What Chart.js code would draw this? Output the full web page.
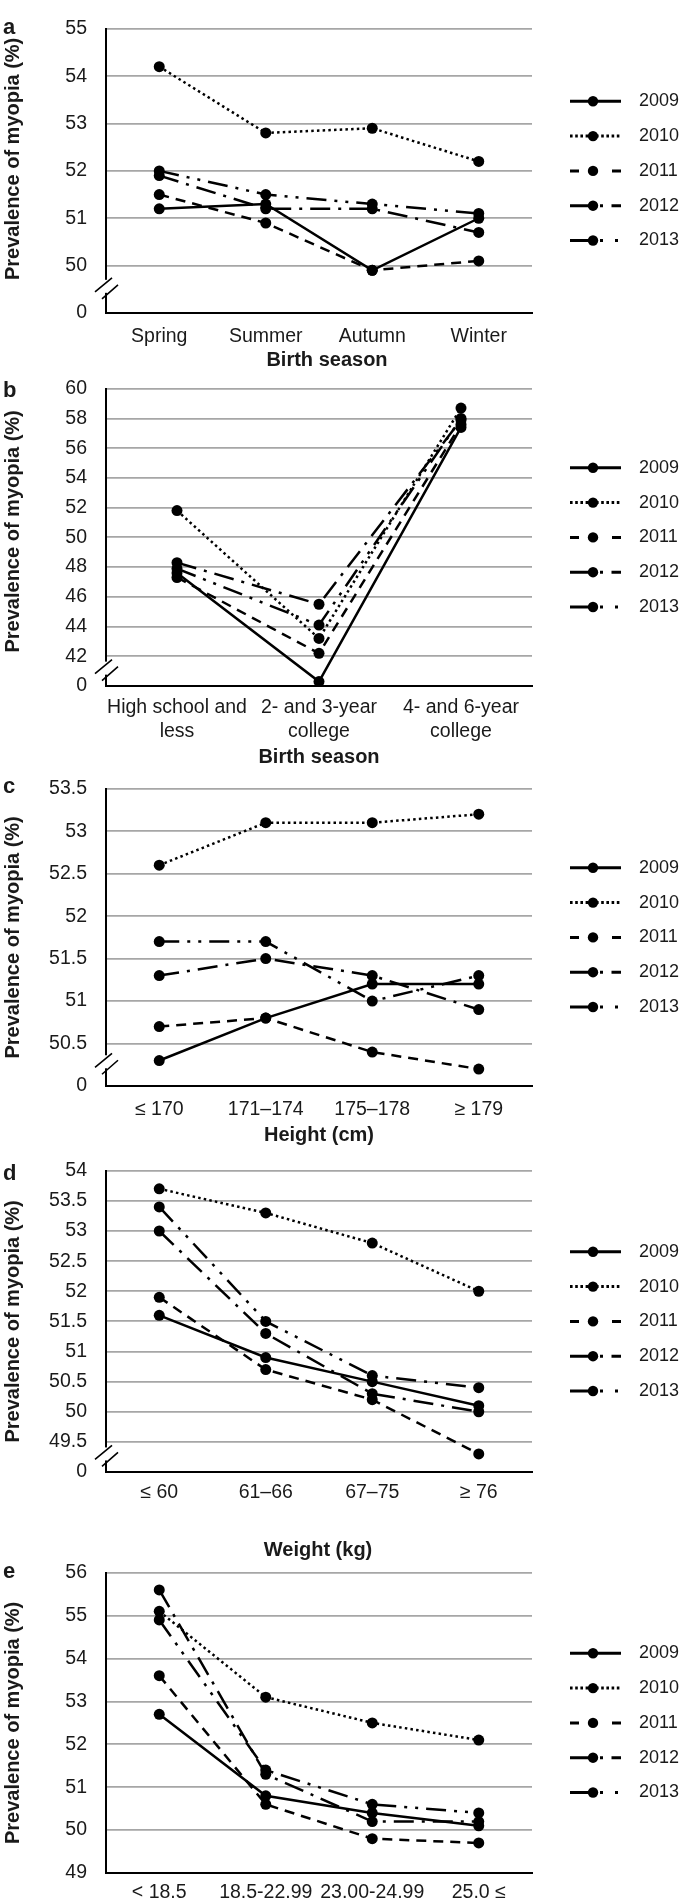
<!DOCTYPE html>
<html>
<head>
<meta charset="utf-8">
<script src="https://cdn.jsdelivr.net/npm/chart.js@4.4.1/dist/chart.umd.min.js"></script>
<style>
  body { margin:0; background:#fff; }
  #wrap { position:relative; width:685px; height:1902px; overflow:hidden; }
  #wrap canvas { position:absolute; left:0; }
</style>
</head>
<body>
<div id="wrap"></div>
<script>
// --- data ---
const years = ['2009', '2010', '2011', '2012', '2013'];

const seasonLabels = ['Spring', 'Summer', 'Autumn', 'Winter'];
const seasonSeries = [
  [51.2, 51.3, 49.9, 51.0],
  [54.2, 52.8, 52.9, 52.2],
  [51.5, 50.9, 49.9, 50.1],
  [51.9, 51.2, 51.2, 50.7],
  [52.0, 51.5, 51.3, 51.1]
];

const eduLabels = [['High school and', 'less'], ['2- and 3-year', 'college'], ['4- and 6-year', 'college']];
const eduSeries = [
  [47.6, 40.3, 57.4],
  [51.8, 43.2, 58.7],
  [47.3, 42.2, 57.6],
  [48.3, 45.5, 57.9],
  [47.9, 44.1, 58.0]
];

const heightLabels = ['≤ 170', '171–174', '175–178', '≥ 179'];
const heightSeries = [
  [50.3, 50.8, 51.2, 51.2],
  [52.6, 53.1, 53.1, 53.2],
  [50.7, 50.8, 50.4, 50.2],
  [51.3, 51.5, 51.3, 50.9],
  [51.7, 51.7, 51.0, 51.3]
];

const weightLabels = ['≤ 60', '61–66', '67–75', '≥ 76'];
const weightSeries = [
  [51.6, 50.9, 50.5, 50.1],
  [53.7, 53.3, 52.8, 52.0],
  [51.9, 50.7, 50.2, 49.3],
  [53.0, 51.3, 50.3, 50.0],
  [53.4, 51.5, 50.6, 50.4]
];

const bmiLabels = ['< 18.5', '18.5-22.99', '23.00-24.99', '25.0 ≤'];
const bmiSeries = [
  [52.7, 50.8, 50.4, 50.1],
  [55.1, 53.1, 52.5, 52.1],
  [53.6, 50.6, 49.8, 49.7],
  [55.6, 51.3, 50.2, 50.2],
  [54.9, 51.4, 50.6, 50.4]
];

const breakLabel = '0';

// --- styles ---
const FONT = "'Liberation Sans', Arial, sans-serif";
const lineDash = [[], [2.5, 3.2], [10, 7], [20, 8, 3, 8], [20, 8, 3, 8, 3, 8]];
const legendDash = [[], [2.6, 2.6], [9, 33, 9], [22, 8, 3, 8.5, 20], [22, 8, 3, 12, 3, 20]];

// panel layout (px in page)
const panels = [
  {letter:'a', letterDy:5, labels:seasonLabels, series:seasonSeries, min:49, max:55, step:1, brk:true,
   top:10, bottom:313, tickPad:12.3, xTitle:'Birth season', xTitleX:327, xTitleY:360, yTitleDy:-12},
  {letter:'b', letterDy:8, labels:eduLabels, series:eduSeries, min:40, max:60, step:2, brk:true,
   top:384, bottom:686, tickPad:10, labelLH:24/19.5, xTitle:'Birth season', xTitleX:319, xTitleY:757, yTitleDy:-6},
  {letter:'c', letterDy:4, labels:heightLabels, series:heightSeries, min:50, max:53.5, step:0.5, brk:true,
   top:784, bottom:1086, tickPad:12.3, xTitle:'Height (cm)', xTitleX:319, xTitleY:1135, yTitleDy:0},
  {letter:'d', letterDy:9, labels:weightLabels, series:weightSeries, min:49, max:54, step:0.5, brk:true,
   top:1166, bottom:1472, tickPad:9.3, xTitle:'Weight (kg)', xTitleX:318, xTitleY:1550, yTitleDy:0},
  {letter:'e', letterDy:5, labels:bmiLabels, series:bmiSeries, min:49, max:56, step:1, brk:false,
   top:1568, bottom:1873, tickPad:8.3, xTitle:null, yTitleDy:0}
];

const W = 685, PLOT_L = 106, PLOT_R = 532;

// draws break marks, axis titles, panel letter and the legend
const decor = {
  id: 'decor',
  afterDraw(chart, args, o) {
    const p = o.panel;
    const {ctx, chartArea: ca, scales: {y}} = chart;
    ctx.save();
    if (p.brk) {
      const yc = (y.getPixelForValue(p.min) + y.getPixelForValue(p.min + p.step)) / 2 - 1.5;
      const x0 = ca.left;
      ctx.fillStyle = '#fff';
      ctx.fillRect(x0 - 2, yc - 8, 4, 13);
      ctx.strokeStyle = '#000';
      ctx.lineWidth = 1.6;
      ctx.beginPath();
      ctx.moveTo(x0 - 11, yc + 4); ctx.lineTo(x0 + 6, yc - 10);
      ctx.moveTo(x0 - 4, yc + 11); ctx.lineTo(x0 + 12, yc - 3);
      ctx.stroke();
    }
    ctx.fillStyle = '#1a1a1a';
    // y title
    ctx.save();
    ctx.translate(13, (ca.top + ca.bottom) / 2 + p.yTitleDy);
    ctx.rotate(-Math.PI / 2);
    ctx.font = 'bold 20px ' + FONT;
    ctx.textAlign = 'center';
    ctx.textBaseline = 'middle';
    ctx.fillText('Prevalence of myopia (%)', 0, 0);
    ctx.restore();
    // x title
    if (p.xTitle) {
      ctx.font = 'bold 20px ' + FONT;
      ctx.textAlign = 'center';
      ctx.textBaseline = 'middle';
      ctx.fillText(p.xTitle, p.xTitleX, ca.bottom + (p.xTitleY - p.bottom));
    }
    // panel letter
    ctx.font = 'bold 22px ' + FONT;
    ctx.textAlign = 'left';
    ctx.textBaseline = 'alphabetic';
    ctx.fillText(p.letter, 3, ca.top + p.letterDy);
    // legend
    const cy = (ca.top + ca.bottom) / 2;
    const gap = 34.8;
    chart.data.datasets.forEach((ds, i) => {
      const ly = cy + (i - 2) * gap;
      ctx.strokeStyle = '#000';
      ctx.lineWidth = 3;
      ctx.setLineDash(legendDash[i]);
      ctx.beginPath();
      ctx.moveTo(570, ly); ctx.lineTo(621, ly);
      ctx.stroke();
      ctx.setLineDash([]);
      ctx.fillStyle = '#000';
      ctx.beginPath();
      ctx.arc(593, ly, 5.2, 0, Math.PI * 2);
      ctx.fill();
      ctx.fillStyle = '#1a1a1a';
      ctx.font = '18px ' + FONT;
      ctx.textAlign = 'left';
      ctx.textBaseline = 'middle';
      ctx.fillText(ds.label, 639, ly);
    });
    ctx.restore();
  }
};

Chart.defaults.font.family = FONT;

function makePanel(p) {
  const canvasTop = Math.max(0, p.top - 24);
  const canvasBottom = p.xTitle ? Math.min(1902, p.xTitleY + 18) : 1902;
  const H = canvasBottom - canvasTop;
  const padTop = p.top - canvasTop;
  const plotH = p.bottom - p.top;
  const cv = document.createElement('canvas');
  cv.width = W; cv.height = H;
  cv.style.top = canvasTop + 'px';
  document.getElementById('wrap').appendChild(cv);

  new Chart(cv.getContext('2d'), {
    type: 'line',
    data: {
      labels: p.labels,
      datasets: p.series.map((d, i) => ({
        label: years[i], data: d,
        borderColor: '#000', backgroundColor: '#000',
        borderWidth: 2.5, borderDash: lineDash[i],
        pointRadius: 5.5, pointBorderWidth: 0, pointBackgroundColor: '#000',
        tension: 0, fill: false, clip: false
      }))
    },
    options: {
      responsive: false, animation: false, events: [],
      layout: {padding: {top: padTop, left: 0, right: W - PLOT_R, bottom: 0}},
      plugins: {legend: {display: false}, tooltip: {enabled: false}, decor: {panel: p}},
      scales: {
        x: {
          type: 'category', offset: true,
          grid: {display: false, drawTicks: false},
          border: {display: true, color: '#000', width: 2},
          ticks: {color: '#1a1a1a', font: {size: 19.5, lineHeight: p.labelLH || 1.2}, padding: p.tickPad,
                  maxRotation: 0, minRotation: 0, autoSkip: false},
          afterFit(s) { s.height = H - padTop - plotH; }
        },
        y: {
          min: p.min, max: p.max,
          grid: {drawTicks: false, lineWidth: 1.8,
                 color: c => (c.tick && Math.abs(c.tick.value - p.min) < 1e-6) ? 'rgba(0,0,0,0)' : '#a6a6a6'},
          border: {color: '#000', width: 2},
          ticks: {stepSize: p.step, padding: 19, color: '#1a1a1a', font: {size: 19.5, lineHeight: 1},
                  callback: v => (p.brk && Math.abs(v - p.min) < 1e-6) ? breakLabel : String(Math.round(v * 10) / 10)},
          afterFit(s) { s.width = PLOT_L; }
        }
      }
    },
    plugins: [decor]
  });
}

panels.forEach(makePanel);
</script>
</body>
</html>
